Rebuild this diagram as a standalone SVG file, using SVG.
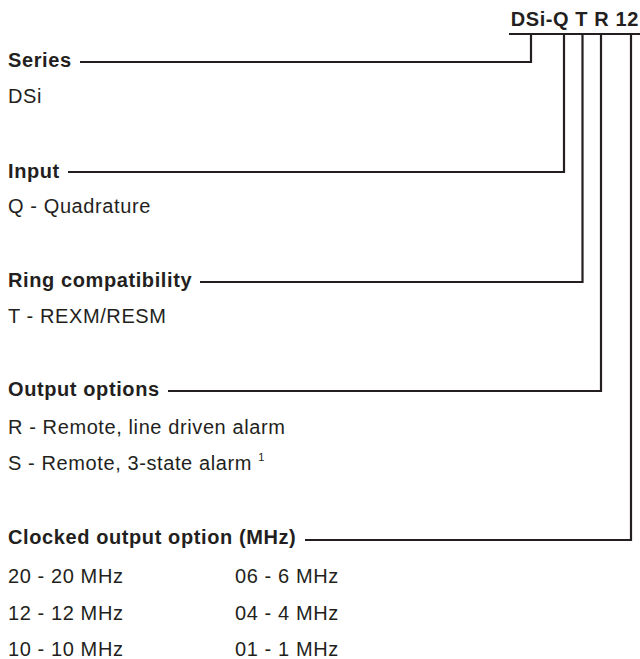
<svg xmlns="http://www.w3.org/2000/svg" width="640" height="659" viewBox="0 0 640 659">
<style>
text{font-family:"Liberation Sans",Arial,sans-serif;fill:#231f20;font-size:20px;letter-spacing:0.6px}
.b{font-weight:bold}
.ln{fill:none;stroke:#231f20;stroke-width:2.2}
</style>
<rect width="640" height="659" fill="#fff"/>
<g id="code"><text class="b" x="639" y="26" text-anchor="end">DSi-Q T R 12</text></g>
<g id="series"><text class="b" x="8" y="67">Series</text><text x="8" y="103">DSi</text></g>
<g id="input"><text class="b" x="8" y="178">Input</text><text x="8" y="213">Q - Quadrature</text></g>
<g id="ring"><text class="b" x="8" y="287">Ring compatibility</text><text x="8" y="323">T - REXM/RESM</text></g>
<g id="output"><text class="b" x="8" y="396">Output options</text><text x="8" y="434">R - Remote, line driven alarm</text><text x="8" y="470">S - Remote, 3-state alarm <tspan font-size="11" dy="-9">1</tspan></text></g>
<g id="clock"><text class="b" x="8" y="544">Clocked output option (MHz)</text>
<text x="8" y="583">20 - 20 MHz</text><text x="8" y="620">12 - 12 MHz</text><text x="8" y="656">10 - 10 MHz</text>
<text x="235" y="583">06 - 6 MHz</text><text x="235" y="620">04 - 4 MHz</text><text x="235" y="656">01 - 1 MHz</text></g>
<g id="connectors">
<path class="ln" d="M509 34H640"/>
<path class="ln" d="M80 62H531V34"/>
<path class="ln" d="M68 172H564V34"/>
<path class="ln" d="M200 282H582.5V34"/>
<path class="ln" d="M168 391H601V34"/>
<path class="ln" d="M305 540H631V34"/>
</g>
</svg>
